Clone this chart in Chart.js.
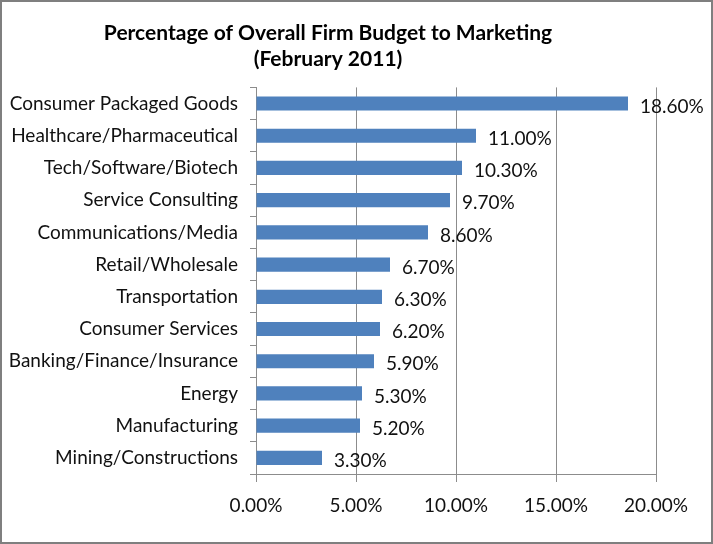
<!DOCTYPE html>
<html>
<head>
<meta charset="utf-8">
<script src="https://cdn.jsdelivr.net/npm/chart.js@4/dist/chart.umd.min.js"></script>
<style>
  html, body { margin: 0; padding: 0; background: #fff; }
  #wrap { width: 713px; height: 544px; position: relative; }
</style>
</head>
<body>
<div id="wrap"><canvas id="c" width="713" height="544"></canvas></div>
<script>
const categories = [
  "Consumer Packaged Goods",
  "Healthcare/Pharmaceutical",
  "Tech/Software/Biotech",
  "Service Consulting",
  "Communications/Media",
  "Retail/Wholesale",
  "Transportation",
  "Consumer Services",
  "Banking/Finance/Insurance",
  "Energy",
  "Manufacturing",
  "Mining/Constructions"
];
const budgetPercent = [18.6, 11.0, 10.3, 9.7, 8.6, 6.7, 6.3, 6.2, 5.9, 5.3, 5.2, 3.3];
const titleLines = ["Percentage of Overall Firm Budget to Marketing", "(February 2011)"];
const xTickValues = [0, 5, 10, 15, 20];

const FONT = "Lato, 'Open Sans', sans-serif";
const GRID = "#8c8c8c";

const labelPlugin = {
  id: 'valueLabels',
  afterDatasetsDraw(chart) {
    const ctx = chart.ctx;
    const meta = chart.getDatasetMeta(0);
    ctx.save();
    ctx.font = "19px " + FONT;
    ctx.fillStyle = "#111";
    ctx.textAlign = "left";
    ctx.textBaseline = "middle";
    meta.data.forEach((bar, i) => {
      ctx.fillText(budgetPercent[i].toFixed(2) + "%", bar.x + 12, bar.y + 3);
    });
    ctx.restore();
  }
};

const borderPlugin = {
  id: 'outerBorder',
  afterDraw(chart) {
    const ctx = chart.ctx;
    ctx.save();
    ctx.strokeStyle = "#7f7f7f";
    ctx.lineWidth = 2;
    ctx.strokeRect(1, 1, chart.width - 2, chart.height - 2);
    ctx.restore();
  }
};

new Chart(document.getElementById('c'), {
  type: 'bar',
  data: {
    labels: categories,
    datasets: [{
      data: budgetPercent,
      backgroundColor: "#4f81bd",
      borderWidth: 0,
      categoryPercentage: 1.0,
      barPercentage: 0.44
    }]
  },
  options: {
    indexAxis: 'y',
    responsive: false,
    animation: false,
    devicePixelRatio: 1,
    layout: { padding: { left: 0, right: 57, top: 0, bottom: 0 } },
    plugins: {
      legend: { display: false },
      tooltip: { enabled: false },
      title: {
        display: true,
        text: titleLines,
        color: "#000",
        font: { family: FONT, size: 21, weight: 'bold', lineHeight: 1.2 },
        padding: { top: 21, bottom: 16 }
      }
    },
    scales: {
      x: {
        type: 'linear',
        min: 0,
        max: 20,
        afterBuildTicks(scale) { scale.ticks = xTickValues.map(v => ({ value: v })); },
        afterFit(scale) { scale.height = 70; },
        ticks: {
          color: "#111",
          font: { family: FONT, size: 19 },
          padding: 12,
          maxRotation: 0,
          callback: v => Number(v).toFixed(2) + "%"
        },
        grid: { color: GRID, lineWidth: 1, tickLength: 8, drawTicks: true },
        border: { display: true, color: GRID, width: 1 }
      },
      y: {
        type: 'category',
        offset: true,
        afterFit(scale) { scale.width = 256; },
        ticks: {
          color: "#111",
          font: { family: FONT, size: 19 },
          padding: 12,
          autoSkip: false
        },
        grid: { display: true, drawOnChartArea: false, offset: true, color: GRID, tickLength: 6 },
        border: { display: true, color: GRID, width: 1 }
      }
    }
  },
  plugins: [labelPlugin, borderPlugin]
});
</script>
</body>
</html>
